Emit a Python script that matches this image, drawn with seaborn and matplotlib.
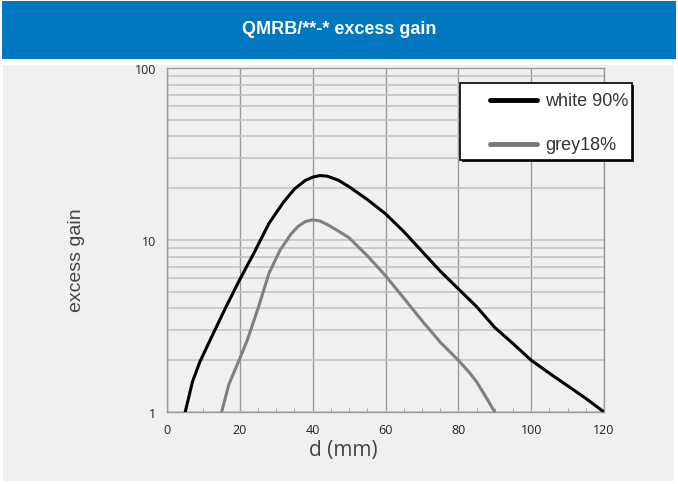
import matplotlib
matplotlib.use("Agg")
import matplotlib.pyplot as plt
import matplotlib.patches as mpatches
from matplotlib.lines import Line2D
from matplotlib.ticker import FixedLocator, NullFormatter, MultipleLocator
import pandas as pd
import seaborn as sns

title = "QMRB/**-* excess gain"
series_names = ["white 90%", "grey18%"]
white_x = [5, 7, 9, 11, 13, 16, 20, 24, 28, 32, 35, 38, 40, 42, 44, 47, 50, 55, 60, 65, 70, 75, 80, 85, 90, 95, 100, 105, 110, 115, 120]
white_y = [1.0, 1.5, 1.95, 2.4, 2.95, 4.0, 5.9, 8.5, 12.5, 16.6, 19.8, 22.2, 23.2, 23.7, 23.5, 22.3, 20.4, 17.2, 14.2, 11.2, 8.6, 6.6, 5.2, 4.1, 3.1, 2.5, 2.0, 1.68, 1.42, 1.2, 1.0]
grey_x = [15, 17, 20, 22, 25, 28, 31, 34, 36, 38, 40, 42, 44, 47, 50, 55, 60, 65, 70, 75, 80, 83, 85, 87, 90]
grey_y = [1.0, 1.45, 2.05, 2.6, 4.0, 6.4, 8.7, 10.8, 12.0, 12.8, 13.1, 12.9, 12.3, 11.3, 10.3, 8.1, 6.2, 4.6, 3.4, 2.55, 2.0, 1.7, 1.5, 1.28, 1.0]
xticks = [0, 20, 40, 60, 80, 100, 120]
yticks = [1, 10, 100]
line_colors = ["#000000", "#808080"]

df = pd.concat([
    pd.DataFrame({"d": white_x, "gain": white_y, "series": series_names[0]}),
    pd.DataFrame({"d": grey_x, "gain": grey_y, "series": series_names[1]}),
])

W, H = 678, 485
bg = "#eff0f2"
fig = plt.figure(figsize=(W / 100, H / 100), dpi=100, facecolor="white")

def fx(px):
    return px / W

def fy(py):
    return 1 - py / H

# grey panel and blue banner
fig.patches.append(mpatches.Rectangle((fx(3), fy(482)), fx(671), 416 / H, transform=fig.transFigure,
                                      facecolor=bg, edgecolor="none", zorder=-2))
fig.patches.append(mpatches.Rectangle((fx(2), fy(60)), fx(674), 58 / H, transform=fig.transFigure,
                                      facecolor="#0077c0", edgecolor="none", zorder=-2))
fig.text(0.5, fy(30), title, color="white", fontsize=13, fontweight="bold",
         ha="center", va="center", family="Liberation Sans")

ax = fig.add_axes([fx(167), fy(413), fx(437), 344 / H])
ax.set_zorder(1)
ax.set_facecolor(bg)

sns.lineplot(data=df, x="d", y="gain", hue="series", palette=line_colors,
             sort=False, estimator=None, linewidth=2.2, ax=ax, legend=False, zorder=3)

ax.set_yscale("log")
ax.set_xlim(0, 120)
ax.set_ylim(1, 100)
ax.xaxis.set_major_locator(FixedLocator(xticks))
ax.xaxis.set_minor_locator(MultipleLocator(5))
ax.yaxis.set_major_locator(FixedLocator(yticks))
ax.yaxis.set_minor_locator(FixedLocator([m * 10 ** e for e in range(0, 2) for m in range(2, 10)]))
ax.yaxis.set_minor_formatter(NullFormatter())
ax.set_xticklabels([str(v) for v in xticks], family="Open Sans")
ax.set_yticklabels([str(v) for v in yticks], family="Open Sans")
ax.grid(which="major", axis="x", color="#9a9a9a", linewidth=1.0)
ax.grid(which="both", axis="y", color="#c4c4c4", linewidth=1.2)
ax.tick_params(axis="x", which="major", length=0, pad=8, labelsize=9, colors="#222222")
ax.tick_params(axis="x", which="minor", length=3, direction="in", color="#9a9a9a")
ax.tick_params(axis="y", which="both", length=0, pad=8, labelsize=9, colors="#222222")
for s in ax.spines.values():
    s.set_color("#9a9a9a")
    s.set_linewidth(1.0)

ax.set_xlabel("d (mm)", fontsize=15, color="#444444", family="Open Sans")
ax.xaxis.set_label_coords((343 - 167) / 437, -(440 - 413) / 344)
ax.set_ylabel("excess gain", fontsize=14, color="#444444", family="Liberation Sans")
ax.yaxis.set_label_coords((85 - 167) / 437, 0.5 - (260 - 241) / 344)

# legend box drawn in figure coordinates
fig.patches.append(mpatches.Rectangle((fx(462), fy(163)), fx(172), 77 / H, transform=fig.transFigure,
                                      facecolor="#222222", edgecolor="none", zorder=4))
fig.patches.append(mpatches.Rectangle((fx(460), fy(161)), fx(172), 77 / H, transform=fig.transFigure,
                                      facecolor="white", edgecolor="#000000", linewidth=1.2, zorder=5))
leg_y = [101, 145]
for name, col, yy in zip(series_names, ["#000000", "#777777"], leg_y):
    fig.add_artist(Line2D([fx(490), fx(537)], [fy(yy), fy(yy)], transform=fig.transFigure,
                          color=col, linewidth=3.5, solid_capstyle="round", zorder=6))
    fig.text(fx(545), fy(yy), name, fontsize=13, color="#333333", va="center", ha="left",
             family="Liberation Sans", zorder=6)

fig.savefig("out.png", dpi=100, facecolor="white")
